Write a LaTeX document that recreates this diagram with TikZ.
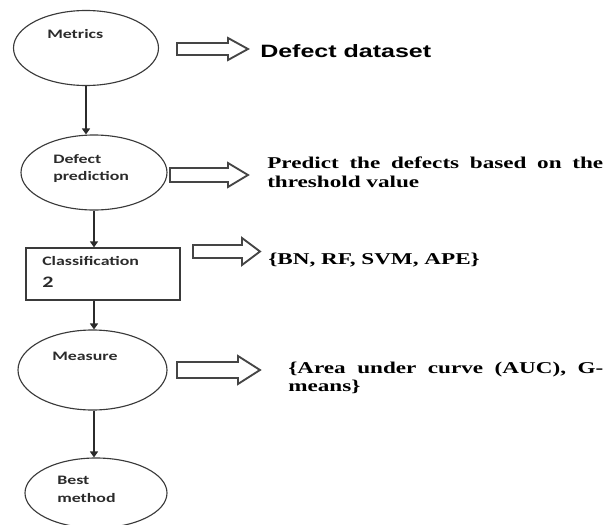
\documentclass[tikz,border=0pt]{standalone}
\usepackage{fontspec}
\usetikzlibrary{shapes.geometric,arrows.meta}
\newfontfamily\boxfont[FakeStretch=1.38]{Carlito}
\newfontfamily\headfont[FakeStretch=1.4]{Liberation Sans}
\newfontfamily\notefont[FakeStretch=1.4]{Liberation Serif}
\definecolor{ink}{HTML}{2B2B2B}
\definecolor{edge}{HTML}{3A3A3A}
\definecolor{arrowgray}{HTML}{454545}
\tikzset{
  stage/.style={ellipse, draw=edge, line width=0.85pt, inner sep=0pt},
  stagebox/.style={rectangle, draw=edge, line width=0.95pt, inner sep=0pt},
  lbl/.style={anchor=base west, inner sep=0pt, text=ink,
    font=\boxfont\bfseries\fontsize{9.7}{12}\selectfont},
  headtxt/.style={anchor=base west, inner sep=0pt, text=black,
    font=\headfont\bfseries\fontsize{13.4}{15}\selectfont},
  notetxt/.style={anchor=base west, inner sep=0pt, text=black,
    font=\notefont\bfseries\fontsize{12.4}{14}\selectfont},
  flow/.style={draw=ink, line width=1.5pt, -{Triangle[length=4.5pt,width=6pt]}},
  fatline/.style={draw=arrowgray, line width=1.4pt, line join=miter, fill=white},
  pics/fatarrow/.style args={#1/#2/#3/#4}{code={
    \path[fatline] (0,-#3) -- (#2,-#3) -- (#2,-#4) -- (#1,0)
      -- (#2,#4) -- (#2,#3) -- (0,#3) -- cycle;
  }}
}
\begin{document}
\begin{tikzpicture}[x=0.75pt, y=-0.75pt]
  \useasboundingbox (0,0) rectangle (604,525);

  % process stages
  \node[stage, minimum width=108.75pt, minimum height=56.25pt] (m)  at (86,48) {};
  \node[stage, minimum width=109.5pt,  minimum height=56.25pt] (dp) at (94,172.5) {};
  \node[stagebox, minimum width=115.5pt, minimum height=39pt]  (cl) at (103,274) {};
  \node[stage, minimum width=111.75pt, minimum height=60pt]    (me) at (92.5,370) {};
  \node[stage, minimum width=106.5pt,  minimum height=52.5pt]  (bm) at (96,493) {};

  % stage labels
  \node[lbl] (mt)  at (47,38)  {Metrics};
  \node[lbl] (dpa) at (53,163) {Defect};
  \node[lbl] (dpb) at (53,180) {prediction};
  \node[lbl] (clt) at (42,265) {Classification};
  \node[lbl, font=\boxfont\bfseries\fontsize{12}{14}\selectfont] (cln) at (42,287) {2};
  \node[lbl] (met) at (52,360) {Measure};
  \node[lbl] (bma) at (57,484) {Best};
  \node[lbl] (bmb) at (57,502) {method};

  % flow between stages
  \draw[flow] (m.south) -- (m.south |- dp.north);
  \coordinate (ax) at (dp.south);
  \draw[flow] (ax) -- (ax |- cl.north);
  \draw[flow] (ax |- cl.south) -- (ax |- me.north);
  \draw[flow] (ax |- me.south) -- (ax |- bm.north);

  % hollow pointers to the descriptions
  \pic (p1) at (177,49)    {fatarrow=71/51/6/11};
  \pic (p2) at (170,175)   {fatarrow=78/58/7/12};
  \pic (p3) at (193,251.5) {fatarrow=67/49/6.5/13.5};
  \pic (p4) at (177,370)   {fatarrow=83/61/8/14};

  % descriptions
  \node[headtxt] (d1) at (260,57) {Defect dataset};
  \node[notetxt] (d2a) at (267,168) {\makebox[252pt][s]{Predict the defects based on the}};
  \node[notetxt] (d2b) at (267,187) {threshold value};
  \node[notetxt] (d3) at (268,264) {\{BN, RF, SVM, APE\}};
  \node[notetxt] (d4a) at (288,373) {\makebox[236.25pt][s]{\{Area under curve (AUC), G-}};
  \node[notetxt] (d4b) at (288,391) {means\}};
\end{tikzpicture}
\end{document}
